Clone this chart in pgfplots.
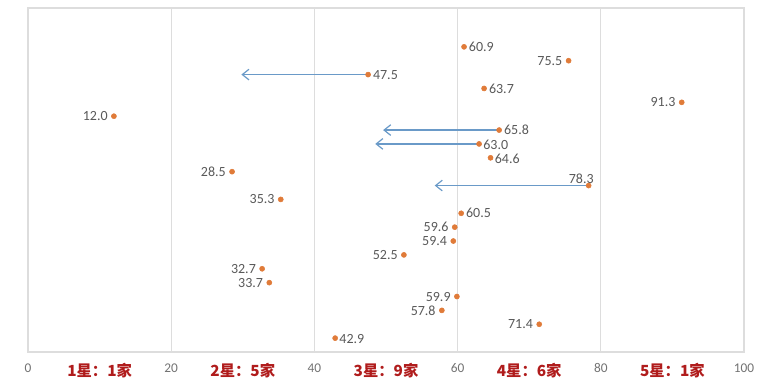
\documentclass[border=0pt]{standalone}
\usepackage{pgfplots}
\pgfplotsset{compat=1.18}
\usepackage{fontspec}
\setmainfont{Carlito}
\newfontfamily\cjk{Noto Sans CJK SC}
\usetikzlibrary{arrows.meta}
\definecolor{dotc}{HTML}{E07B39}
\definecolor{arrc}{HTML}{6A9AC8}
\definecolor{labc}{HTML}{595959}
\definecolor{gridc}{HTML}{DDDDDD}
\definecolor{redc}{HTML}{B01C1C}
\begin{document}
\begin{tikzpicture}
\begin{axis}[
  scale only axis, width=537pt, height=258pt,
  xmin=0, xmax=100, ymin=0, ymax=24.8,
  xtick={0,20,40,60,80,100},
  ytick=\empty,
  xmajorgrids, grid style={gridc, line width=0.6pt},
  axis line style={gridc, line width=0.8pt},
  major tick length=0pt,
  tick label style={font=\fontsize{10}{12}\selectfont, text=labc!85},
  /pgf/number format/assume math mode=true,
  extra x ticks={10,30,50,70,90},
  extra x tick labels={1星：1家,2星：5家,3星：9家,4星：6家,5星：1家},
  extra x tick style={grid=none, tick label style={font=\cjk\bfseries\fontsize{11.5}{13}\selectfont, text=redc}},
  xticklabel style={yshift=-5pt},
  clip=false,
  every node near coord/.append style={font=\fontsize{10.5}{12}\selectfont, text=labc, inner sep=2pt},
  nodes near coords={\pgfmathprintnumber[fixed,precision=1,fixed zerofill]{\pgfplotspointmeta}},
  point meta=x,
]
% arrows
\addplot[arrc, line width=0.9pt, -{Straight Barb[length=5pt,width=8pt]}, nodes near coords={}] coordinates {(47.5,20) (29.8,20)};
\addplot[arrc, line width=0.9pt, -{Straight Barb[length=5pt,width=8pt]}, nodes near coords={}] coordinates {(65.8,16) (49.6,16)};
\addplot[arrc, line width=0.9pt, -{Straight Barb[length=5pt,width=8pt]}, nodes near coords={}] coordinates {(63.0,15) (48.5,15)};
\addplot[arrc, line width=0.9pt, -{Straight Barb[length=5pt,width=8pt]}, nodes near coords={}] coordinates {(78.3,12) (56.8,12)};
% labels right
\addplot[only marks, mark=*, mark size=1.9pt, dotc, every node near coord/.append style={anchor=west, xshift=1.5pt}] coordinates {
(60.9,22) (47.5,20) (63.7,19) (65.8,16) (60.5,10)};
% labels lower right
\addplot[only marks, mark=*, mark size=1.9pt, dotc, every node near coord/.append style={anchor=north west, yshift=5pt, xshift=1pt}] coordinates {
(63.0,15) (64.6,14) (42.9,1)};
% labels left
\addplot[only marks, mark=*, mark size=1.9pt, dotc, every node near coord/.append style={anchor=east, xshift=-2.5pt}] coordinates {
(75.5,21) (91.3,18) (12.0,17) (28.5,13) (35.3,11) (59.6,9) (59.4,8) (52.5,7) (32.7,6) (33.7,5) (59.9,4) (57.8,3) (71.4,2)};
% label above
\addplot[only marks, mark=*, mark size=1.9pt, dotc, every node near coord/.append style={anchor=south east, xshift=6pt, yshift=-1pt}] coordinates {
(78.3,12)};
\end{axis}
\pgfresetboundingbox
\path ([shift={(-21pt,-20.25pt)}]current axis.south west) rectangle ([shift={(18pt,6pt)}]current axis.north east);
\end{tikzpicture}
\end{document}
